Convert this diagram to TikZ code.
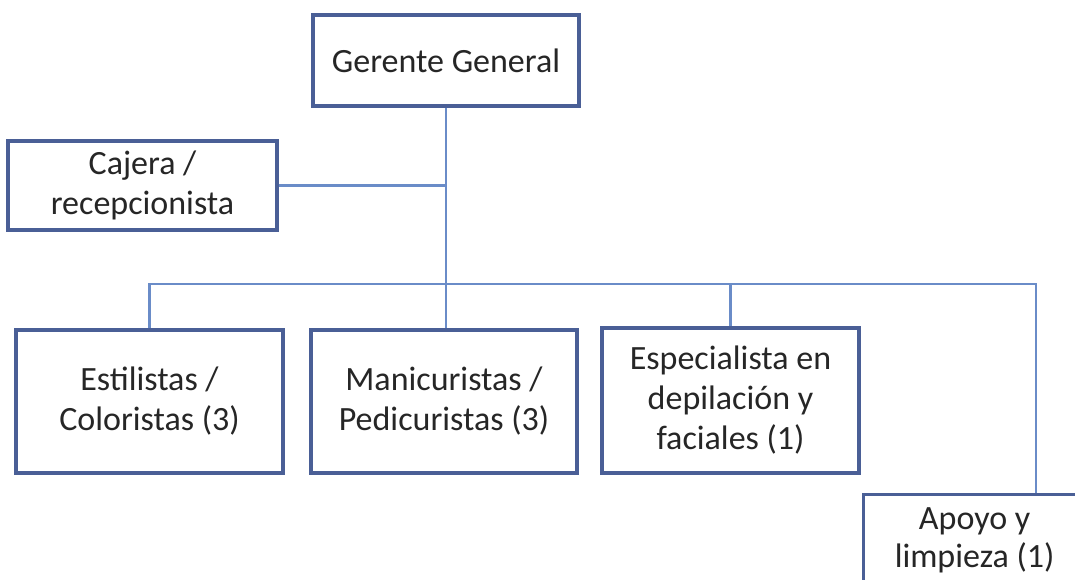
\documentclass[tikz,border=0pt]{standalone}
\usepackage{fontspec}
\setmainfont{Carlito}
\definecolor{boxblue}{HTML}{4A5F96}
\definecolor{lineblue}{HTML}{6A8CC8}
\definecolor{txt}{HTML}{262626}
\begin{document}
\begin{tikzpicture}[x=1pt,y=-1pt,
  orgbox/.style={draw=boxblue,line width=3.2pt,fill=white,align=center,
    text=txt,font=\fontsize{34}{40}\selectfont,inner sep=0pt},
  conn/.style={draw=lineblue,line width=2.2pt}]
\useasboundingbox (0,0) rectangle (1075,579);
\clip (0,0) rectangle (1075,579);
\fill[white] (0,0) rectangle (1075,579);
\coordinate (bus) at (446,284);
\coordinate (rbus) at (1036,284);
\node[orgbox,minimum width=266pt,minimum height=91pt] (ger) at (446,60.5) {Gerente General};
\node[orgbox,minimum width=269pt,minimum height=89pt] (caj) at (142.5,185.5) {Cajera /\\recepcionista};
\node[orgbox,minimum width=267pt,minimum height=143pt] (est) at (149.5,401.5) {Estilistas /\\Coloristas (3)};
\node[orgbox,minimum width=266pt,minimum height=143pt] (man) at (444,401.5) {Manicuristas /\\Pedicuristas (3)};
\node[orgbox,minimum width=257pt,minimum height=145pt] (esp) at (730.5,400.5) {Especialista en\\depilación y\\faciales (1)};
\node[orgbox,minimum width=222pt,minimum height=120pt,anchor=north west] (apo) at (862,493) {};
\node[text=txt,font=\fontsize{34}{38}\selectfont,align=center,anchor=north,inner sep=0pt] (apotxt) at (apo.north) [yshift=-14pt] {Apoyo y\\limpieza (1)};
\draw[conn] (ger.south) -- (bus);
\draw[conn] (caj.east) -- (caj.east -| bus);
\draw[conn] (est.north) |- (rbus) -- (rbus |- apo.north);
\draw[conn] (bus) -- (bus |- man.north);
\draw[conn] (esp.north) -- (esp.north |- bus);
\end{tikzpicture}
\end{document}
